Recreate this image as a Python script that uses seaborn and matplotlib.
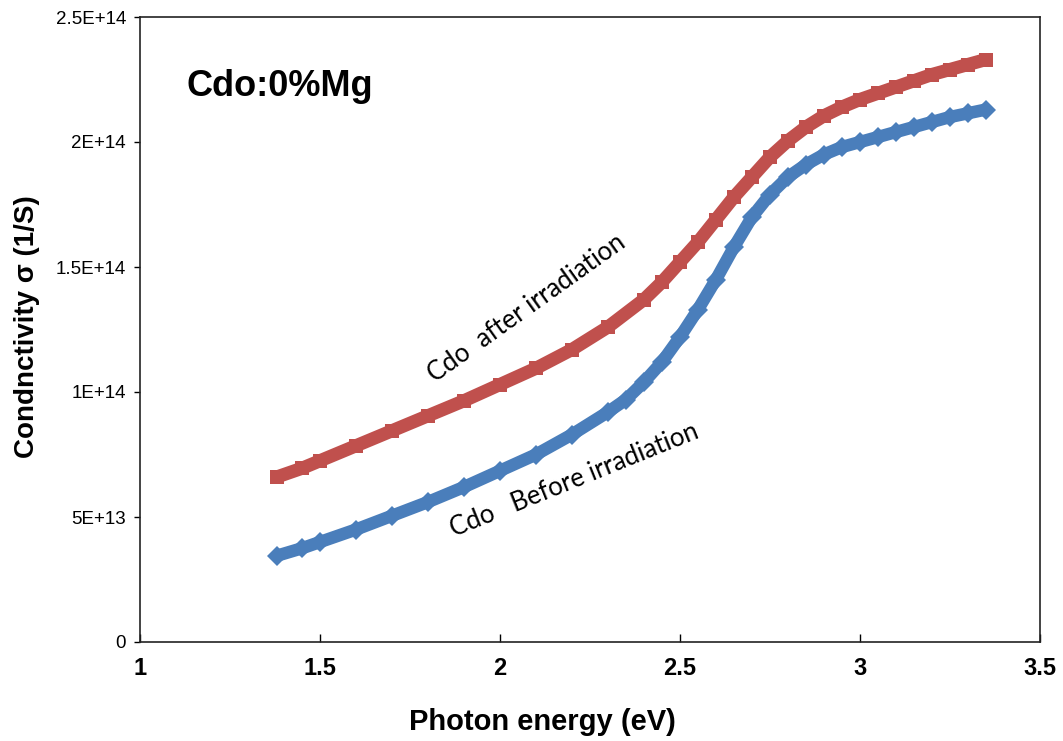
import matplotlib
matplotlib.use("Agg")
import matplotlib.pyplot as plt
import seaborn as sns
import pandas as pd
from matplotlib import font_manager

# ---- data (conductivity in units of 1E14 1/S) ----
energy_after = [1.38, 1.45, 1.5, 1.6, 1.7, 1.8, 1.9, 2.0, 2.1, 2.2, 2.3, 2.4, 2.45,
                2.5, 2.55, 2.6, 2.65, 2.7, 2.75, 2.8, 2.85, 2.9, 2.95, 3.0, 3.05,
                3.1, 3.15, 3.2, 3.25, 3.3, 3.35]
sigma_after = [0.66, 0.695, 0.725, 0.785, 0.845, 0.905, 0.965, 1.03, 1.095, 1.17, 1.26,
               1.37, 1.44, 1.52, 1.60, 1.69, 1.78, 1.86, 1.94, 2.005, 2.06, 2.105, 2.14,
               2.17, 2.195, 2.22, 2.245, 2.27, 2.29, 2.31, 2.33]

energy_before = [1.38, 1.45, 1.5, 1.6, 1.7, 1.8, 1.9, 2.0, 2.1, 2.2, 2.3, 2.35, 2.4,
                 2.45, 2.5, 2.55, 2.6, 2.65, 2.7, 2.75, 2.8, 2.85, 2.9, 2.95, 3.0,
                 3.05, 3.1, 3.15, 3.2, 3.25, 3.3, 3.35]
sigma_before = [0.345, 0.375, 0.40, 0.45, 0.505, 0.56, 0.62, 0.685, 0.75, 0.83, 0.92,
                0.97, 1.04, 1.12, 1.22, 1.33, 1.45, 1.58, 1.70, 1.79, 1.86, 1.91,
                1.95, 1.98, 2.0, 2.02, 2.04, 2.06, 2.08, 2.10, 2.115, 2.13]

x_ticks = [1, 1.5, 2, 2.5, 3, 3.5]
x_tick_labels = ["1", "1.5", "2", "2.5", "3", "3.5"]
y_ticks = [0, 0.5, 1.0, 1.5, 2.0, 2.5]
y_tick_labels = ["0", "5E+13", "1E+14", "1.5E+14", "2E+14", "2.5E+14"]

title_text = "Cdo:0%Mg"
label_after = "Cdo  after irradiation"
label_before = "Cdo   Before irradiation"

# ---- styling ----
sns.set_theme(style="white")
plt.rcParams["font.family"] = ["Liberation Sans", "DejaVu Sans"]

names = {f.name for f in font_manager.fontManager.ttflist}
narrow = "Liberation Sans Narrow" if "Liberation Sans Narrow" in names else "Liberation Sans"
annot_font = "Lato" if "Lato" in names else "DejaVu Sans"

RED = "#C0504D"
BLUE = "#4A7EBB"

fig = plt.figure(figsize=(10.63, 7.41), dpi=100)
ax = fig.add_axes([140 / 1063, 99 / 741, 900 / 1063, 625 / 741])

df_a = pd.DataFrame({"E": energy_after, "s": sigma_after})
df_b = pd.DataFrame({"E": energy_before, "s": sigma_before})

sns.lineplot(data=df_a, x="E", y="s", ax=ax, color=RED, linewidth=9.5,
             marker="s", markersize=9.5, markeredgewidth=0, solid_capstyle="butt")
sns.lineplot(data=df_b, x="E", y="s", ax=ax, color=BLUE, linewidth=9,
             marker="D", markersize=10, markeredgewidth=0, solid_capstyle="butt")

ax.set_xlim(1, 3.5)
ax.set_ylim(0, 2.5)
ax.set_xticks(x_ticks)
ax.set_xticklabels(x_tick_labels, fontfamily=narrow, fontweight="bold", fontsize=17)
ax.set_yticks(y_ticks)
ax.set_yticklabels(y_tick_labels, fontsize=13.5)

ax.tick_params(axis="x", direction="in", length=6, width=1, pad=11, colors="black")
ax.tick_params(axis="y", direction="out", length=4, width=1, pad=6, colors="black")
ax.tick_params(axis="y", left=True)
ax.tick_params(axis="x", bottom=True)

for sp in ax.spines.values():
    sp.set_visible(True)
    sp.set_color("#222222")
    sp.set_linewidth(1.2)

ax.set_xlabel("Photon energy (eV)", fontsize=21, fontweight="bold", color="black")
ax.xaxis.set_label_coords((542 - 140) / 900, -0.105)
ax.set_ylabel("Condnctivity σ (1/S)", fontsize=20, fontweight="bold", color="black")
ax.yaxis.set_label_coords((40 - 140) / 900, 0.504)

ax.text((280 - 140) / 900, (642 - 87) / 625, title_text, transform=ax.transAxes,
        fontsize=26, fontweight="bold", ha="center", va="center", color="black")

ax.text(2.075, 1.336, label_after, fontsize=18.5, family=annot_font, rotation=35.5,
        ha="center", va="center", rotation_mode="anchor", color="black")
ax.text(2.208, 0.648, label_before, fontsize=18.5, family=annot_font, rotation=22,
        ha="center", va="center", rotation_mode="anchor", color="black")

fig.savefig("out.png", dpi=100)
